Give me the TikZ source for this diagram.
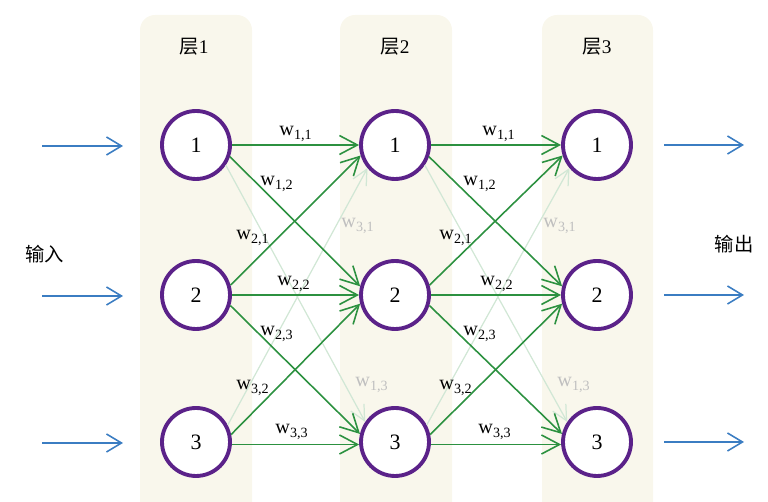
\documentclass[tikz,border=0pt]{standalone}
\usepackage{fontspec}
\setmainfont{Liberation Serif}
\newfontfamily\cjk{Noto Sans CJK SC}
\usetikzlibrary{arrows.meta}
\definecolor{panelcream}{HTML}{F9F7EC}
\definecolor{neuronpurple}{HTML}{5B2289}
\definecolor{weightgreen}{HTML}{2C9140}
\definecolor{signalblue}{HTML}{3B7DC2}

\begin{document}
\begin{tikzpicture}[
	x=0.02cm, y=-0.02cm,
	% Define the styles for the network
	neuron/.style={circle, draw=neuronpurple, line width=2.2pt, fill=white, minimum size=1.36cm, inner sep=0pt, font=\fontsize{12.5}{14}\selectfont},
	weight/.style={draw=weightgreen, line width=0.9pt, -{Straight Barb[length=3.6mm,width=3.8mm]}},
	faintweight/.style={draw=weightgreen!22, line width=0.7pt, -{Straight Barb[length=3mm,width=3mm]}},
	signal/.style={draw=signalblue, line width=0.9pt, -{Straight Barb[length=3mm,width=3.6mm]}},
	wlabel/.style={font=\fontsize{11.5}{13}\selectfont, inner sep=0pt},
	faintlabel/.style={wlabel, text=black!25},
	title/.style={font=\fontsize{11}{13}\selectfont, inner sep=0pt},
	layerbox/.style={fill=panelcream, rounded corners=0.3cm}
	]
	
	\useasboundingbox (0,0) rectangle (768,502);
	
	% --- LAYER PANELS ---
	\fill[layerbox] (140,15) rectangle (252,540);
	\fill[layerbox] (340,15) rectangle (452,540);
	\fill[layerbox] (542,15) rectangle (653,540);
	
	\node[title] (t1) at (194,47) {{\cjk 层}1};
	\node[title] (t2) at (395,47) {{\cjk 层}2};
	\node[title] (t3) at (597,47) {{\cjk 层}3};
	
	% --- NEURONS ---
	% Format: \node (layer_row) at (x,y) [neuron] {number};
	
	\node (a1) at (196,145) [neuron] {1};
	\node (a2) at (196,295) [neuron] {2};
	\node (a3) at (196,442) [neuron] {3};
	\node (b1) at (395,145) [neuron] {1};
	\node (b2) at (395,295) [neuron] {2};
	\node (b3) at (395,442) [neuron] {3};
	\node (c1) at (597,145) [neuron] {1};
	\node (c2) at (597,295) [neuron] {2};
	\node (c3) at (597,442) [neuron] {3};
	
	% --- INPUTS AND OUTPUTS ---
	\coordinate (in1) at (42,146);  \coordinate (in1e) at (123,146);
	\coordinate (in2) at (42,296);  \coordinate (in2e) at (123,296);
	\coordinate (in3) at (42,443);  \coordinate (in3e) at (123,443);
	\coordinate (out1) at (664,145); \coordinate (out1e) at (744,145);
	\coordinate (out2) at (664,295); \coordinate (out2e) at (744,295);
	\coordinate (out3) at (664,442); \coordinate (out3e) at (744,442);
	
	\draw[signal] (in1) -- (in1e);
	\draw[signal] (in2) -- (in2e);
	\draw[signal] (in3) -- (in3e);
	\draw[signal] (out1) -- (out1e);
	\draw[signal] (out2) -- (out2e);
	\draw[signal] (out3) -- (out3e);
	
	\node[title] (inlabel) at (45,254) {\cjk 输入};
	\node[title] (outlabel) at (734,244) {\cjk 输出};
	
	% --- WEIGHTS: LAYER 1 TO LAYER 2 ---
	% The links 3,1 and 1,3 are drawn faint (behind the others).
	
	\draw[faintweight] (a3.28) -- (b1.-140);
	\draw[faintweight] (a1.-34) -- (b3.146);
	\draw[weight] (a1.east) -- (b1.west);
	\draw[weight] (a1.-19) -- (b2.166);
	\draw[weight] (a2.16) -- (b1.-163);
	\draw[weight] (a2.east) -- (b2.west);
	\draw[weight] (a2.-17) -- (b3.167);
	\draw[weight] (a3.12) -- (b2.-166);
	\draw[weight] (a3.-4) -- (b3.-176);
	
	\node[wlabel] (w11a) at (296,134) {w\textsubscript{1,1}};
	\node[wlabel] (w12a) at (277,184) {w\textsubscript{1,2}};
	\node[wlabel] (w21a) at (253,238) {w\textsubscript{2,1}};
	\node[faintlabel] (w31a) at (358,226) {w\textsubscript{3,1}};
	\node[wlabel] (w22a) at (294,284) {w\textsubscript{2,2}};
	\node[wlabel] (w23a) at (277,334) {w\textsubscript{2,3}};
	\node[wlabel] (w32a) at (253,388) {w\textsubscript{3,2}};
	\node[faintlabel] (w13a) at (372,385) {w\textsubscript{1,3}};
	\node[wlabel] (w33a) at (292,432) {w\textsubscript{3,3}};
	
	% --- WEIGHTS: LAYER 2 TO LAYER 3 ---
	
	\draw[faintweight] (b3.28) -- (c1.-140);
	\draw[faintweight] (b1.-34) -- (c3.146);
	\draw[weight] (b1.east) -- (c1.west);
	\draw[weight] (b1.-19) -- (c2.166);
	\draw[weight] (b2.16) -- (c1.-163);
	\draw[weight] (b2.east) -- (c2.west);
	\draw[weight] (b2.-17) -- (c3.167);
	\draw[weight] (b3.12) -- (c2.-166);
	\draw[weight] (b3.-4) -- (c3.-176);
	
	\node[wlabel] (w11b) at (499,134) {w\textsubscript{1,1}};
	\node[wlabel] (w12b) at (480,184) {w\textsubscript{1,2}};
	\node[wlabel] (w21b) at (456,238) {w\textsubscript{2,1}};
	\node[faintlabel] (w31b) at (560,226) {w\textsubscript{3,1}};
	\node[wlabel] (w22b) at (497,284) {w\textsubscript{2,2}};
	\node[wlabel] (w23b) at (480,334) {w\textsubscript{2,3}};
	\node[wlabel] (w32b) at (456,388) {w\textsubscript{3,2}};
	\node[faintlabel] (w13b) at (574,385) {w\textsubscript{1,3}};
	\node[wlabel] (w33b) at (495,432) {w\textsubscript{3,3}};
	
\end{tikzpicture}
\end{document}
